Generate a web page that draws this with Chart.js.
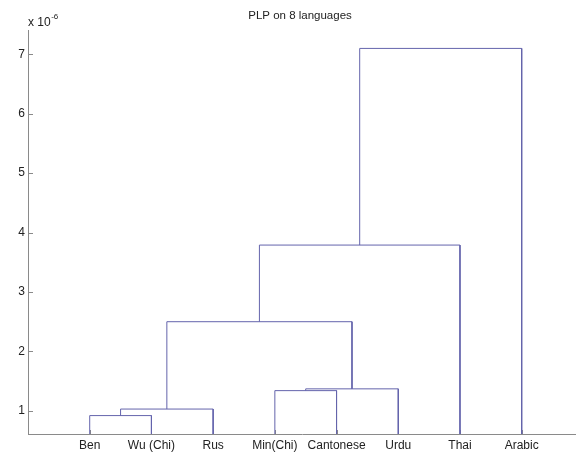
<!DOCTYPE html>
<html>
<head>
<meta charset="utf-8">
<title>PLP on 8 languages</title>
<script src="https://cdn.jsdelivr.net/npm/chart.js@4"></script>
<style>
  html, body { margin: 0; padding: 0; background: #fff; }
  canvas { display: block; }
</style>
</head>
<body>
<canvas id="dendro" width="576" height="453"></canvas>
<script>
// leaf order along the x axis
var leafNames = ['Ben', 'Wu (Chi)', 'Rus', 'Min(Chi)', 'Cantonese', 'Urdu', 'Thai', 'Arabic'];

// linkage table: node ids 1..8 are leaves, 9.. are the merged clusters
var linkLeft = [1, 9, 4, 11, 10, 13, 14];
var linkRight = [2, 3, 5, 6, 12, 7, 8];
var linkHeight = [0.92, 1.03, 1.34, 1.37, 2.50, 3.79, 7.10]; // x 1e-6

var yTicks = [1, 2, 3, 4, 5, 6, 7];

var lineColor = '#6464ac';
var axisColor = '#8a8a8a';
var textColor = '#222';

// x position and height of every node
var nodeX = {};
var nodeH = {};
leafNames.forEach(function (name, i) {
    nodeX[i + 1] = i + 1;
    nodeH[i + 1] = 0;
});

var datasets = [];
linkLeft.forEach(function (a, k) {
    var b = linkRight[k];
    var h = linkHeight[k];
    var id = leafNames.length + k + 1;
    nodeX[id] = (nodeX[a] + nodeX[b]) / 2;
    nodeH[id] = h;
    datasets.push({
        data: [
            { x: nodeX[a], y: nodeH[a] },
            { x: nodeX[a], y: h },
            { x: nodeX[b], y: h },
            { x: nodeX[b], y: nodeH[b] }
        ],
        borderColor: lineColor,
        borderWidth: 1,
        pointRadius: 0,
        tension: 0,
        fill: false
    });
});

// inward tick marks, title and exponent label
var decorPlugin = {
    id: 'decor',
    beforeDatasetsDraw: function (chart) {
        var ctx = chart.ctx;
        var area = chart.chartArea;
        var xs = chart.scales.x, ys = chart.scales.y;
        ctx.save();
        ctx.strokeStyle = axisColor;
        ctx.lineWidth = 1;
        ctx.beginPath();
        yTicks.forEach(function (v) {
            var py = Math.round(ys.getPixelForValue(v)) + 0.5;
            ctx.moveTo(area.left, py);
            ctx.lineTo(area.left + 5, py);
        });
        leafNames.forEach(function (n, i) {
            var px = Math.round(xs.getPixelForValue(i + 1)) + 0.5;
            ctx.moveTo(px, area.bottom);
            ctx.lineTo(px, area.bottom - 4);
        });
        ctx.stroke();
        ctx.restore();
    },
    afterDraw: function (chart) {
        var ctx = chart.ctx;
        ctx.save();
        ctx.fillStyle = textColor;
        ctx.font = '11.5px "Liberation Sans", Arial, sans-serif';
        ctx.textAlign = 'center';
        ctx.textBaseline = 'middle';
        ctx.fillText('PLP on 8 languages', 300, 16);

        ctx.textAlign = 'left';
        ctx.textBaseline = 'alphabetic';
        ctx.font = '12px "Liberation Sans", Arial, sans-serif';
        ctx.fillText('x 10', 28, 26);
        var w = ctx.measureText('x 10').width;
        ctx.font = '8px "Liberation Sans", Arial, sans-serif';
        ctx.fillText('-6', 28 + w + 0.5, 19);
        ctx.restore();
    }
};

var ctx = document.getElementById('dendro').getContext('2d');
var chart = new Chart(ctx, {
    type: 'line',
    data: { datasets: datasets },
    options: {
        responsive: false,
        animation: false,
        layout: { padding: { top: 30, right: 0, left: 0, bottom: 0 } },
        plugins: {
            legend: { display: false },
            tooltip: { enabled: false },
            title: { display: false }
        },
        scales: {
            x: {
                type: 'linear',
                min: 0,
                max: 8.88,
                grid: { display: false, drawTicks: false },
                border: { display: true, color: axisColor, width: 1 },
                afterBuildTicks: function (scale) {
                    scale.ticks = leafNames.map(function (n, i) { return { value: i + 1 }; });
                },
                afterFit: function (scale) { scale.height = 19; },
                ticks: {
                    autoSkip: false,
                    maxRotation: 0,
                    padding: 4,
                    color: textColor,
                    font: { family: '"Liberation Sans", Arial, sans-serif', size: 12 },
                    callback: function (v) { return leafNames[v - 1]; }
                }
            },
            y: {
                type: 'linear',
                min: 0.61,
                max: 7.41,
                grid: { display: false, drawTicks: false },
                border: { display: true, color: axisColor, width: 1 },
                afterBuildTicks: function (scale) {
                    scale.ticks = yTicks.map(function (v) { return { value: v }; });
                },
                afterFit: function (scale) { scale.width = 28; },
                ticks: {
                    padding: 3,
                    color: textColor,
                    font: { family: '"Liberation Sans", Arial, sans-serif', size: 12 }
                }
            }
        }
    },
    plugins: [decorPlugin]
});
</script>
</body>
</html>
